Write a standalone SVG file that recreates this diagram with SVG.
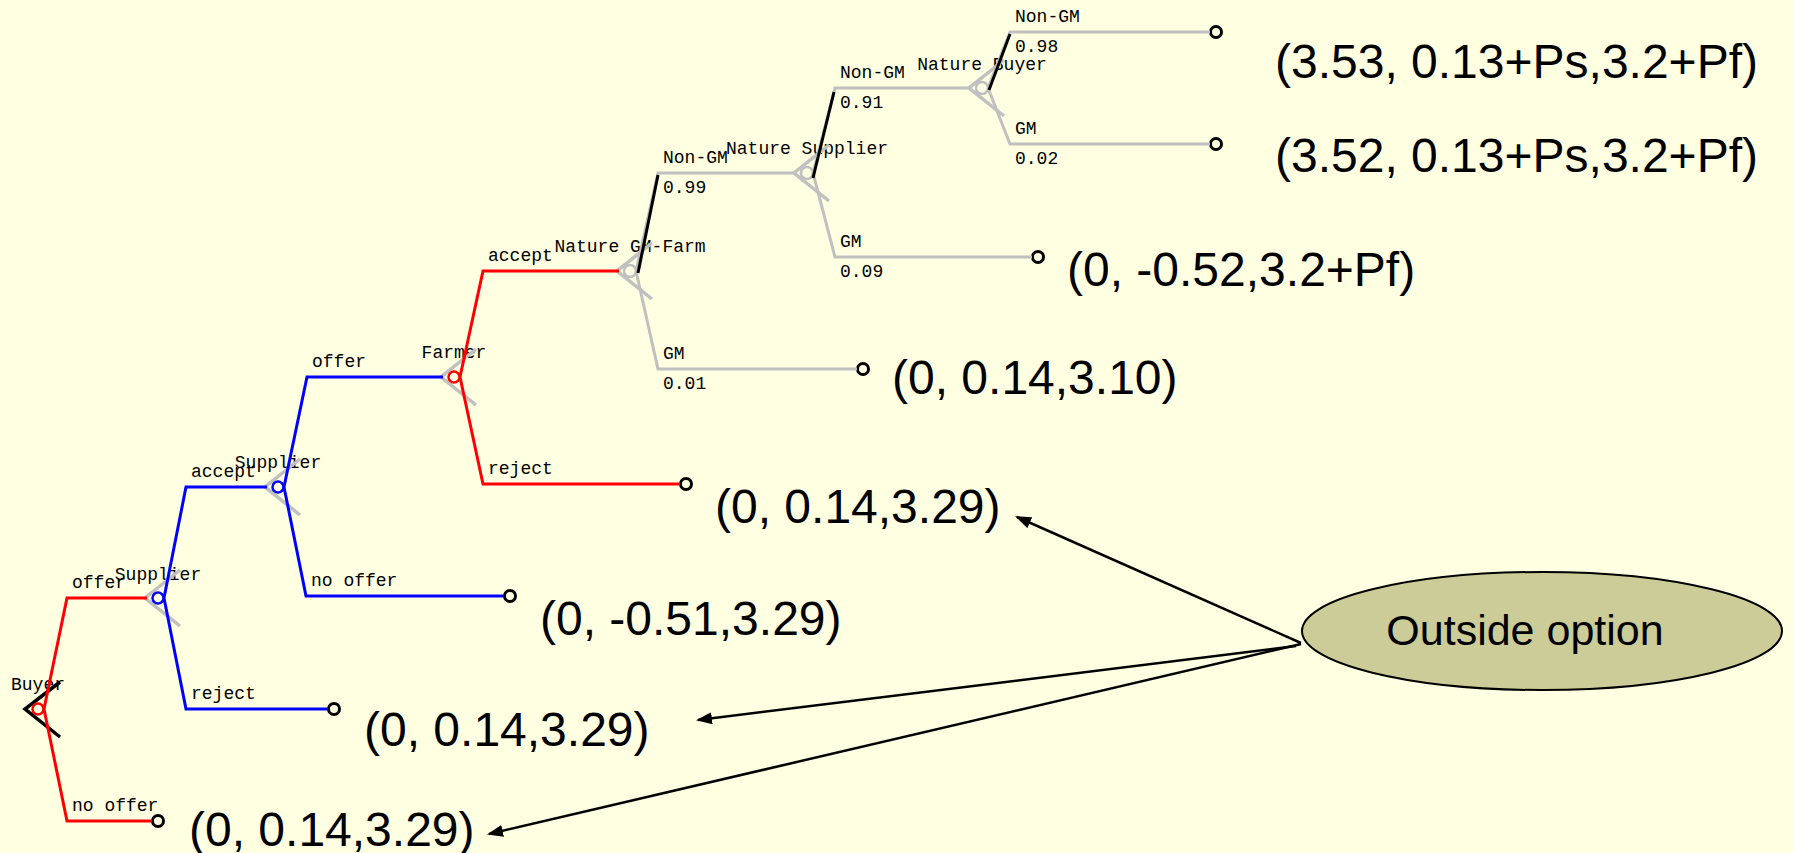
<svg xmlns="http://www.w3.org/2000/svg" width="1793" height="853" viewBox="0 0 1793 853">
<style>
.lbl{font-family:"Liberation Mono","DejaVu Sans Mono",monospace;font-size:18px;fill:#000}
.nl{font-family:"Liberation Mono","DejaVu Sans Mono",monospace;font-size:18px;fill:#000;text-anchor:middle}
.pay{font-family:"Liberation Sans",Arial,sans-serif;font-size:48px;fill:#000}
.chev{fill:none;stroke:#c0c0c0;stroke-width:3.5}
.chevb{fill:none;stroke:#000;stroke-width:3.5}
.pc{fill:none;stroke-width:2.5}
.term{fill:none;stroke:#000;stroke-width:3}
.e{fill:none;stroke-width:3}
.red{stroke:#ff0000}
.blue{stroke:#0000ff}
.grey{stroke:#c0c0c0}
.ind{stroke:#000;stroke-width:3;fill:none}
.arr{stroke:#000;stroke-width:2.5;fill:none;marker-end:url(#ah)}
</style>
<defs>
<marker id="ah" viewBox="0 0 16 12" refX="14" refY="6" markerWidth="16" markerHeight="12" markerUnits="userSpaceOnUse" orient="auto">
<path d="M0,0 L16,6 L0,12 z" fill="#000"/>
</marker>
</defs>
<rect width="1793" height="853" fill="#ffffe1"/>

<g id="node-buyer">
<text class="nl" x="38" y="690">Buyer</text>
<path class="chevb" d="M60,682 L25,709 L60,737"/>
<circle class="pc red" cx="38" cy="709" r="5.5"/>
</g>
<g id="node-supplier1">
<text class="nl" x="158" y="580">Supplier</text>
<path class="chev" d="M180,570 L145,598 L180,626"/>
<circle class="pc blue" cx="158" cy="598" r="5.5"/>
</g>
<g id="node-supplier2">
<text class="nl" x="278" y="468">Supplier</text>
<path class="chev" d="M300,459 L265,487 L300,515"/>
<circle class="pc blue" cx="278" cy="487" r="5.5"/>
</g>
<g id="node-farmer">
<text class="nl" x="454" y="358">Farmer</text>
<path class="chev" d="M476,349 L441,377 L476,405"/>
<circle class="pc red" cx="454" cy="377" r="5.5"/>
</g>
<g id="node-nature-gmfarm">
<text class="nl" x="630" y="252">Nature GM-Farm</text>
<path class="chev" d="M652,243 L617,271 L652,299"/>
<circle class="pc grey" cx="630" cy="271" r="6" stroke-width="3"/>
</g>
<g id="node-nature-supplier">
<text class="nl" x="807" y="154">Nature Supplier</text>
<path class="chev" d="M829,145 L794,173 L829,201"/>
<circle class="pc grey" cx="807" cy="173" r="6" stroke-width="3"/>
</g>
<g id="node-nature-buyer">
<text class="nl" x="982" y="70">Nature Buyer</text>
<path class="chev" d="M1004,60 L969,88 L1004,116"/>
<circle class="pc grey" cx="982" cy="88" r="6" stroke-width="3"/>
</g>

<g id="terminal-1"><circle class="term" cx="1216" cy="32" r="5.5"/><text class="pay" x="1275" y="78">(3.53, 0.13+Ps,3.2+Pf)</text></g>
<g id="terminal-2"><circle class="term" cx="1216" cy="144" r="5.5"/><text class="pay" x="1275" y="172">(3.52, 0.13+Ps,3.2+Pf)</text></g>
<g id="terminal-3"><circle class="term" cx="1038" cy="257" r="5.5"/><text class="pay" x="1067" y="286">(0, -0.52,3.2+Pf)</text></g>
<g id="terminal-4"><circle class="term" cx="863" cy="369" r="5.5"/><text class="pay" x="892" y="394">(0, 0.14,3.10)</text></g>
<g id="terminal-5"><circle class="term" cx="686" cy="484" r="5.5"/><text class="pay" x="715" y="523">(0, 0.14,3.29)</text></g>
<g id="terminal-6"><circle class="term" cx="510" cy="596" r="5.5"/><text class="pay" x="540" y="635">(0, -0.51,3.29)</text></g>
<g id="terminal-7"><circle class="term" cx="334" cy="709" r="5.5"/><text class="pay" x="364" y="746">(0, 0.14,3.29)</text></g>
<g id="terminal-8"><circle class="term" cx="158" cy="821" r="5.5"/><text class="pay" x="189" y="846">(0, 0.14,3.29)</text></g>

<g id="node-outside-option">
<ellipse cx="1542" cy="631" rx="240" ry="59" fill="#cccc99" stroke="#000" stroke-width="2"/>
<text x="1525" y="645" font-family="'Liberation Sans',Arial,sans-serif" font-size="43" text-anchor="middle">Outside option</text>
</g>

<g id="connectors">
<polyline class="e red" points="44,709 67,598 147,598"/>
<polyline class="e red" points="44,709 67,821 152,821"/>
<polyline class="e blue" points="164,598 186,487 267,487"/>
<polyline class="e blue" points="164,598 186,709 328,709"/>
<polyline class="e blue" points="284,487 307,377 443,377"/>
<polyline class="e blue" points="284,487 306,596 504,596"/>
<polyline class="e red" points="460,377 483,271 619,271"/>
<polyline class="e red" points="460,377 483,484 680,484"/>
<polyline class="e grey" points="636,271 658,173 796,173"/>
<polyline class="e grey" points="636,271 658,369 857,369"/>
<polyline class="e grey" points="813,173 835,88 971,88"/>
<polyline class="e grey" points="813,173 835,257 1032,257"/>
<polyline class="e grey" points="988,88 1010,32 1210,32"/>
<polyline class="e grey" points="988,88 1010,144 1210,144"/>
<line class="ind" x1="638" y1="273" x2="658" y2="175"/>
<line class="ind" x1="813" y1="178" x2="834" y2="92"/>
<line class="ind" x1="989" y1="90" x2="1010" y2="34"/>
<text class="lbl" x="72" y="588">offer</text>
<text class="lbl" x="72" y="811">no offer</text>
<text class="lbl" x="191" y="477">accept</text>
<text class="lbl" x="191" y="699">reject</text>
<text class="lbl" x="312" y="367">offer</text>
<text class="lbl" x="311" y="586">no offer</text>
<text class="lbl" x="488" y="261">accept</text>
<text class="lbl" x="488" y="474">reject</text>
<text class="lbl" x="663" y="163">Non-GM</text>
<text class="lbl" x="663" y="193">0.99</text>
<text class="lbl" x="663" y="359">GM</text>
<text class="lbl" x="663" y="389">0.01</text>
<text class="lbl" x="840" y="78">Non-GM</text>
<text class="lbl" x="840" y="108">0.91</text>
<text class="lbl" x="840" y="247">GM</text>
<text class="lbl" x="840" y="277">0.09</text>
<text class="lbl" x="1015" y="22">Non-GM</text>
<text class="lbl" x="1015" y="52">0.98</text>
<text class="lbl" x="1015" y="134">GM</text>
<text class="lbl" x="1015" y="164">0.02</text>
<line class="arr" x1="1301" y1="643" x2="1017" y2="517"/>
<line class="arr" x1="1296" y1="646" x2="698" y2="720"/>
<line class="arr" x1="1301" y1="644" x2="489" y2="834"/>
</g>
</svg>
